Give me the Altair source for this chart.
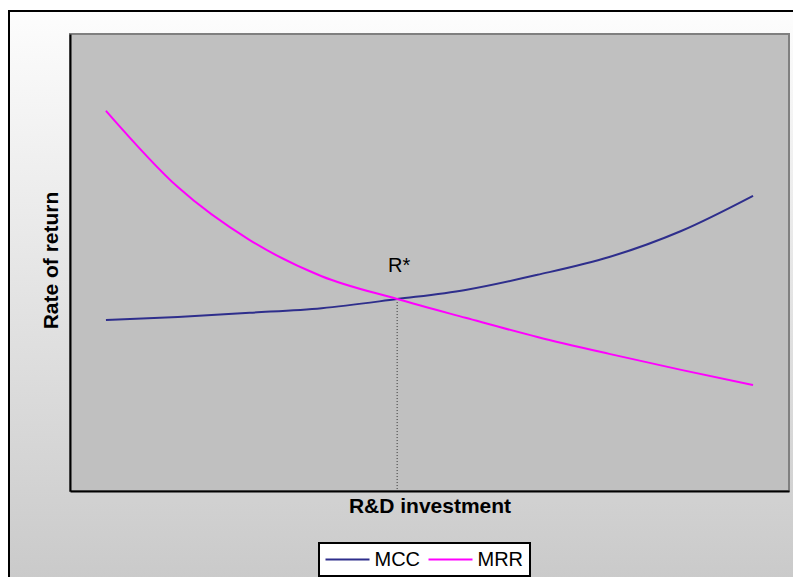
import altair as alt
import pandas as pd

# ---- data ----
x_vals = [5, 15, 25, 35, 45.5, 55, 65, 75, 85, 95]
mcc_vals = [37.4, 38.1, 39.0, 40.0, 42.0, 44.0, 47.3, 51.2, 56.9, 64.6]
mrr_vals = [83.2, 66.5, 54.9, 47.0, 42.0, 37.9, 33.7, 30.0, 26.5, 23.2]
series_names = ["MCC", "MRR"]
series_colors = ["#2e2e8c", "#ff00ff"]
r_star_x = [45.5]
r_star_y = [42.0]
r_label = ["R*"]
r_label_y = [48.0]

W, H = 719, 457

lines_df = pd.DataFrame({
    "x": x_vals + x_vals,
    "y": mcc_vals + mrr_vals,
    "series": [series_names[0]] * len(x_vals) + [series_names[1]] * len(x_vals),
})
star_df = pd.DataFrame({"x": r_star_x, "y": r_star_y, "ly": r_label_y, "label": r_label})
one = pd.DataFrame({"a": [0]})

xs = alt.Scale(domain=[0, 100], nice=False, zero=False)
ys = alt.Scale(domain=[0, 100], nice=False, zero=False)

x_axis = alt.Axis(
    title="R&D investment", labels=False, ticks=False, grid=False,
    domainColor="black", domainWidth=2,
    titleFont="Liberation Sans", titleFontSize=21, titleFontWeight="bold",
    titleColor="black", titleX=W / 2, titleY=15, titleAlign="center",
    titleBaseline="middle", zindex=1,
)
y_axis = alt.Axis(
    title="Rate of return", labels=False, ticks=False, grid=False,
    domainColor="black", domainWidth=2,
    titleFont="Liberation Sans", titleFontSize=21, titleFontWeight="bold",
    titleColor="black", titleAngle=270, titleX=-19, titleY=226,
    titleAlign="center", titleBaseline="middle", zindex=1,
)

gradient = {
    "gradient": "linear", "x1": 0, "y1": 0, "x2": 0, "y2": 1,
    "stops": [{"offset": 0, "color": "#fdfdfd"}, {"offset": 1, "color": "#c9c9c9"}],
}

outer = alt.Chart(one).mark_rect(fill=gradient, stroke="black", strokeWidth=2).encode(
    x=alt.value(-61), x2=alt.value(W + 100), y=alt.value(-23), y2=alt.value(H + 99)
)
plot_bg = alt.Chart(one).mark_rect(fill="#c0c0c0", stroke="#808080", strokeWidth=2).encode(
    x=alt.value(0), x2=alt.value(W), y=alt.value(0), y2=alt.value(H)
)

rule = alt.Chart(star_df).mark_rule(strokeDash=[1, 2], color="#333333", strokeWidth=1).encode(
    x=alt.X("x:Q", scale=xs, axis=x_axis),
    y=alt.Y("y:Q", scale=ys, axis=y_axis),
    y2=alt.datum(0),
)

lines = alt.Chart(lines_df).mark_line(strokeWidth=2, interpolate="monotone").encode(
    x=alt.X("x:Q", scale=xs, axis=x_axis),
    y=alt.Y("y:Q", scale=ys, axis=y_axis),
    color=alt.Color(
        "series:N",
        scale=alt.Scale(domain=series_names, range=series_colors),
        legend=alt.Legend(
            title=None, orient="none", legendX=249, legendY=509,
            direction="horizontal", fillColor="white", strokeColor="black",
            padding=6.5, symbolType="M-2.75,0H2.75", symbolSize=256,
            symbolStrokeWidth=2, symbolOffset=12,
            labelFontSize=20, labelFont="Liberation Sans", labelColor="black",
            labelOffset=17, columnPadding=4,
        ),
    ),
)

label = alt.Chart(star_df).mark_text(
    fontSize=20, font="Liberation Sans", align="center", baseline="alphabetic", dx=2, color="black"
).encode(
    x=alt.X("x:Q", scale=xs, axis=x_axis),
    y=alt.Y("ly:Q", scale=ys, axis=y_axis),
    text="label:N",
)

chart = alt.layer(outer, plot_bg, rule, lines, label).properties(
    width=W, height=H,
    autosize=alt.AutoSizeParams(type="none"),
    padding={"left": 62, "top": 26, "right": 4, "bottom": 86},
).configure(background="white").configure_view(stroke=None).configure_legend(strokeWidth=2)

chart.save("out.html", embed_options={"renderer": "svg", "actions": False})
